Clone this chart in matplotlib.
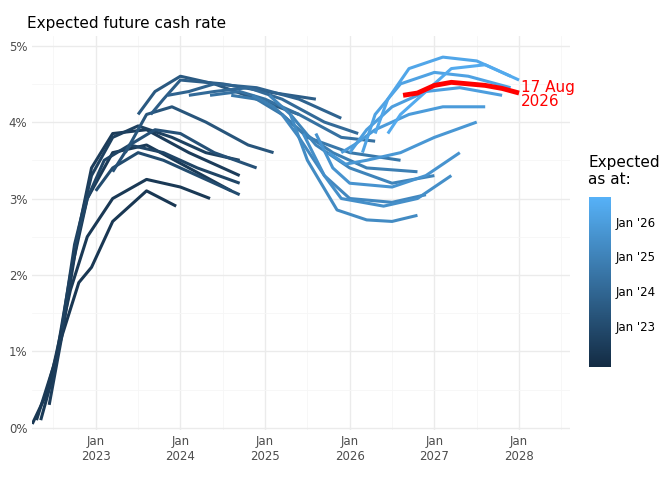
import matplotlib.pyplot as plt
import matplotlib.colors as mcolors
import matplotlib.cm as cm
import numpy as np

# each forecast: as-at date (decimal year), then (date, expected rate %) points
as_at = [2022.25, 2022.3, 2022.35, 2022.45, 2022.6, 2022.75, 2023.0, 2023.2, 2023.35, 2023.5,
         2023.65, 2023.85, 2024.1, 2024.35, 2024.6, 2024.85, 2025.05, 2025.2, 2025.3, 2025.45,
         2025.6, 2025.75, 2025.9, 2026.0, 2026.15, 2026.3, 2026.45]
paths_x = [
    [2022.25, 2022.4, 2022.6, 2022.8, 2022.95, 2023.2, 2023.6, 2023.95],
    [2022.3, 2022.5, 2022.7, 2022.9, 2023.2, 2023.6, 2024.0, 2024.35],
    [2022.35, 2022.5, 2022.7, 2022.9, 2023.2, 2023.6, 2024.1, 2024.6],
    [2022.45, 2022.6, 2022.8, 2022.95, 2023.2, 2023.6, 2024.1, 2024.7],
    [2022.6, 2022.75, 2022.95, 2023.2, 2023.5, 2023.9, 2024.3, 2024.7],
    [2022.75, 2022.9, 2023.1, 2023.4, 2023.8, 2024.2, 2024.7],
    [2023.0, 2023.2, 2023.5, 2023.8, 2024.2, 2024.7],
    [2023.2, 2023.4, 2023.7, 2024.0, 2024.4, 2024.9],
    [2023.35, 2023.6, 2023.9, 2024.3, 2024.8, 2025.1],
    [2023.5, 2023.7, 2024.0, 2024.4, 2024.9, 2025.4],
    [2023.65, 2023.8, 2024.0, 2024.5, 2025.0, 2025.6],
    [2023.85, 2024.1, 2024.4, 2024.9, 2025.4, 2025.9],
    [2024.1, 2024.4, 2024.8, 2025.2, 2025.7, 2026.1],
    [2024.35, 2024.7, 2025.0, 2025.4, 2025.9, 2026.3],
    [2024.6, 2024.9, 2025.2, 2025.5, 2026.0, 2026.6],
    [2024.85, 2025.1, 2025.4, 2025.8, 2026.2, 2026.8],
    [2025.05, 2025.3, 2025.6, 2026.0, 2026.5, 2027.0],
    [2025.2, 2025.4, 2025.7, 2026.0, 2026.5, 2026.9],
    [2025.3, 2025.5, 2025.85, 2026.2, 2026.5, 2026.8],
    [2025.45, 2025.7, 2025.9, 2026.4, 2026.8, 2027.2],
    [2025.6, 2025.8, 2026.0, 2026.5, 2026.9, 2027.3],
    [2025.75, 2025.95, 2026.2, 2026.6, 2027.0, 2027.5],
    [2025.9, 2026.05, 2026.3, 2026.7, 2027.1, 2027.6],
    [2026.0, 2026.2, 2026.5, 2026.9, 2027.3, 2027.8],
    [2026.15, 2026.3, 2026.6, 2027.0, 2027.4, 2027.9],
    [2026.3, 2026.45, 2026.7, 2027.1, 2027.5, 2027.9],
    [2026.45, 2026.6, 2026.9, 2027.2, 2027.6, 2028.0],
]
paths_y = [
    [0.05, 0.4, 1.2, 1.9, 2.1, 2.7, 3.1, 2.9],
    [0.1, 0.8, 1.8, 2.5, 3.0, 3.25, 3.15, 3.0],
    [0.1, 0.7, 2.0, 3.0, 3.6, 3.7, 3.4, 3.1],
    [0.3, 1.2, 2.6, 3.4, 3.85, 3.9, 3.6, 3.3],
    [1.3, 2.4, 3.3, 3.8, 3.95, 3.8, 3.6, 3.5],
    [2.35, 3.0, 3.5, 3.7, 3.6, 3.4, 3.2],
    [3.1, 3.4, 3.6, 3.5, 3.3, 3.05],
    [3.35, 3.7, 3.9, 3.85, 3.6, 3.4],
    [3.6, 4.1, 4.2, 4.0, 3.7, 3.6],
    [4.1, 4.4, 4.6, 4.5, 4.3, 4.1],
    [4.1, 4.3, 4.55, 4.5, 4.4, 4.3],
    [4.35, 4.4, 4.5, 4.45, 4.3, 4.05],
    [4.35, 4.4, 4.45, 4.3, 4.0, 3.85],
    [4.35, 4.4, 4.3, 4.1, 3.8, 3.75],
    [4.35, 4.3, 4.1, 3.8, 3.6, 3.5],
    [4.35, 4.2, 3.9, 3.6, 3.4, 3.35],
    [4.35, 4.1, 3.7, 3.4, 3.2, 3.3],
    [4.1, 3.8, 3.3, 3.0, 2.95, 3.05],
    [4.1, 3.5, 2.85, 2.72, 2.7, 2.78],
    [3.85, 3.3, 3.0, 2.9, 3.0, 3.3],
    [3.85, 3.4, 3.2, 3.15, 3.3, 3.6],
    [3.6, 3.45, 3.5, 3.6, 3.8, 4.0],
    [3.6, 3.7, 3.9, 4.1, 4.2, 4.2],
    [3.6, 3.9, 4.2, 4.4, 4.45, 4.35],
    [3.6, 4.1, 4.5, 4.65, 4.6, 4.45],
    [3.85, 4.3, 4.7, 4.85, 4.8, 4.6],
    [3.85, 4.1, 4.4, 4.7, 4.75, 4.55],
]
latest_x = [2026.63, 2026.8, 2027.0, 2027.2, 2027.4, 2027.6, 2027.8, 2028.0]
latest_y = [4.35, 4.38, 4.48, 4.52, 4.5, 4.48, 4.44, 4.38]

cmap = mcolors.LinearSegmentedColormap.from_list("gg", ["#132B43", "#56B1F7"])
norm = mcolors.Normalize(vmin=2021.8, vmax=2026.7)

fig = plt.figure(figsize=(6.72, 4.8), dpi=100)
ax = fig.add_axes([0.048, 0.104, 0.80, 0.82])

for d, xs, ys in zip(as_at, paths_x, paths_y):
    ax.plot(xs, ys, color=cmap(norm(d)), lw=2.2, solid_capstyle="butt")
ax.plot(latest_x, latest_y, color="red", lw=3.5, solid_capstyle="butt")
ax.text(2028.02, 4.36, "17 Aug\n2026", color="red", fontsize=11, va="center", ha="left",
        linespacing=0.9)

ax.set_xlim(2022.25, 2028.6)
ax.set_ylim(-0.03, 5.12)
ax.set_xticks([2023, 2024, 2025, 2026, 2027, 2028])
ax.set_xticklabels(["Jan\n2023", "Jan\n2024", "Jan\n2025", "Jan\n2026", "Jan\n2027", "Jan\n2028"])
ax.set_xticks(np.arange(2022.5, 2028.6, 1.0), minor=True)
ax.set_yticks(range(6))
ax.set_yticklabels([f"{i}%" for i in range(6)])
ax.set_yticks(np.arange(0.5, 5.1, 1.0), minor=True)
ax.grid(True, which="major", color="#ebebeb", lw=1.0)
ax.grid(True, which="minor", color="#f6f6f6", lw=0.6)
ax.set_axisbelow(True)
for s in ax.spines.values():
    s.set_visible(False)
ax.tick_params(which="both", length=0, labelsize=8.5, colors="#4d4d4d")
ax.set_title("Expected future cash rate", loc="left", fontsize=11, x=-0.01)

cax = fig.add_axes([0.876, 0.235, 0.033, 0.354])
cb = fig.colorbar(cm.ScalarMappable(norm=norm, cmap=cmap), cax=cax)
cb.set_ticks([2023, 2024, 2025, 2026])
cb.set_ticklabels(["Jan '23", "Jan '24", "Jan '25", "Jan '26"])
cb.outline.set_visible(False)
cax.tick_params(length=0, labelsize=8.5)
fig.text(0.875, 0.61, "Expected\nas at:", fontsize=11, va="bottom")

fig.savefig("out.png")
